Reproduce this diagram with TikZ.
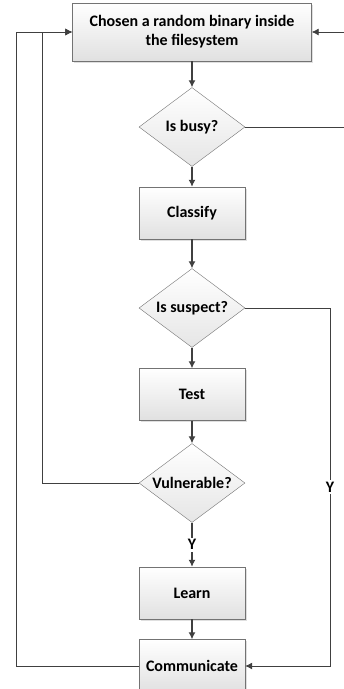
\documentclass[tikz,border=0pt]{standalone}
\usepackage{fontspec}
\setmainfont{Carlito}
\usetikzlibrary{shapes.geometric, arrows.meta, shadows}

\tikzset{
  blk/.style={draw=black!55, top color=white, bottom color=black!12,
    drop shadow={shadow xshift=1.5pt, shadow yshift=-1.5pt, opacity=.25},
    minimum width=106pt, minimum height=52pt, align=center, inner sep=0pt},
  dec/.style={diamond, draw=black!55, top color=white, bottom color=black!10,
    shape aspect=1.34, minimum width=106pt, minimum height=79pt,
    inner xsep=-2pt, inner ysep=0pt},
  flow/.style={draw=black!75, line width=1.2pt, -{Latex[length=7pt,width=7pt]}},
  back/.style={draw=black!75, line width=.8pt, -{Latex[length=7pt,width=7pt]}},
  lbl/.style={fill=white, inner sep=2pt}
}

\begin{document}
\begin{tikzpicture}[x=1pt, y=-1pt,
  every node/.append style={font=\bfseries\fontsize{16}{19}\selectfont}]
\useasboundingbox (0,0) rectangle (344,689);

% main column
\node[blk, minimum width=239pt, minimum height=58pt] (pick) at (192,32)
  {Chosen a random binary inside\\the filesystem};
\node[dec] (busy) at (192,127) {Is busy?};
\node[blk] (classify) at (192,213) {Classify};
\node[dec] (suspect) at (192,308) {Is suspect?};
\node[blk] (test) at (192,394.5) {Test};
\node[dec] (vuln) at (192,483) {Vulnerable?};
\node[blk] (learn) at (192,593) {Learn};
\node[blk, minimum height=53pt] (comm) at (192,666) {Communicate};

% turning points of the loops
\coordinate (rgt) at (347,0);
\coordinate (yes) at (330,0);
\coordinate (inl) at (42,0);
\coordinate (outl) at (16,0);

\draw[flow] (pick) -- (busy);
\draw[flow] (busy) -- (classify);
\draw[flow] (classify) -- (suspect);
\draw[flow] (suspect) -- (test);
\draw[flow] (test) -- (vuln);
\draw[flow] (vuln) -- node[lbl] {Y} (learn);
\draw[flow] (learn) -- (comm);

\draw[back] (busy.east) -- (busy.east -| rgt) |- (pick.east);
\draw[back] (suspect.east) -- (suspect.east -| yes)
  -- node[lbl, pos=.5] {Y} (comm.east -| yes) -- (comm.east);
\draw[back] (vuln.west) -- (vuln.west -| inl) |- (pick.west);
\draw[back] (comm.west) -- (comm.west -| outl) |- (pick.west);
\end{tikzpicture}
\end{document}
